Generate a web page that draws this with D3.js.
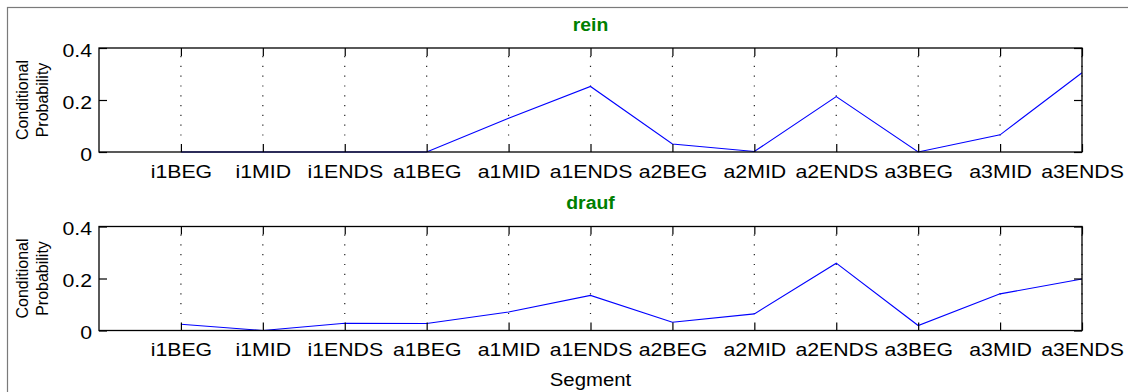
<!DOCTYPE html>
<html>
<head>
<meta charset="utf-8">
<script src="https://cdn.jsdelivr.net/npm/d3@7"></script>
<style>
  html, body { margin: 0; padding: 0; background: #fff; }
  svg { display: block; font-family: "Liberation Sans", Arial, Helvetica, sans-serif; }
</style>
</head>
<body>
<svg id="chart" width="1128" height="392"></svg>
<script>
// Segment categories along the x axis
const segments = ["i1BEG", "i1MID", "i1ENDS", "a1BEG", "a1MID", "a1ENDS",
                  "a2BEG", "a2MID", "a2ENDS", "a3BEG", "a3MID", "a3ENDS"];

// Conditional probability per segment for each word
const reinValues  = [0, 0, 0, 0, 0.13, 0.252, 0.031, 0.002, 0.213, 0, 0.066, 0.305];
const draufValues = [0.024, 0, 0.028, 0.027, 0.071, 0.135, 0.032, 0.064, 0.259, 0.019, 0.141, 0.198];

const yTicks = [0, 0.2, 0.4];
const panelTitles = ["rein", "drauf"];

const svg = d3.select("#chart");
const W = 1128, H = 392;
const left = 99, right = 1082;
const panelH = 104;
const panelTops = [48, 226.5];
const stretch = 1.15;

// outer figure frame
svg.append("rect")
  .attr("x", 7.5).attr("y", 7.5)
  .attr("width", W + 20).attr("height", H + 20)
  .attr("fill", "none").attr("stroke", "#7a7a7a").attr("stroke-width", 1.2);

const x = d3.scaleLinear().domain([0, segments.length]).range([left, right]);

function drawPanel(values, title, top) {
  const bottom = top + panelH;
  const y = d3.scaleLinear().domain([0, 0.4]).range([bottom, top]);
  const g = svg.append("g");

  // dotted vertical grid
  g.append("g").selectAll("line")
    .data(d3.range(1, segments.length + 1))
    .join("line")
      .attr("x1", d => x(d)).attr("x2", d => x(d))
      .attr("y1", top + 8).attr("y2", bottom - 8)
      .attr("stroke", "#222")
      .attr("stroke-width", 1.2)
      .attr("stroke-dasharray", "1.2,8.6");

  // data line
  const line = d3.line().x((d, i) => x(i + 1)).y(d => y(d));
  g.append("path")
    .datum(values)
    .attr("d", line)
    .attr("fill", "none")
    .attr("stroke", "#0000ff")
    .attr("stroke-width", 1.1);

  // bottom axis with labels
  const xAxis = d3.axisBottom(x)
    .tickValues(d3.range(1, segments.length + 1))
    .tickFormat(d => segments[d - 1])
    .tickSizeInner(-8).tickSizeOuter(0).tickPadding(12);
  const gx = g.append("g").attr("transform", `translate(0,${bottom})`).call(xAxis);
  gx.select(".domain").remove();
  gx.selectAll("line").attr("stroke", "#000").attr("stroke-width", 1.2);
  gx.selectAll("text")
    .attr("font-size", 18.5).attr("fill", "#000")
    .attr("y", 26).attr("dy", 0)
    .attr("font-family", "Liberation Sans, Arial, sans-serif")
    .attr("transform", `scale(${stretch},1)`);

  // top ticks
  const xTop = d3.axisTop(x)
    .tickValues(d3.range(1, segments.length + 1))
    .tickFormat("").tickSizeInner(-8).tickSizeOuter(0);
  const gxt = g.append("g").attr("transform", `translate(0,${top})`).call(xTop);
  gxt.select(".domain").remove();
  gxt.selectAll("line").attr("stroke", "#000").attr("stroke-width", 1.2);

  // left axis with labels
  const yAxis = d3.axisLeft(y)
    .tickValues(yTicks)
    .tickFormat(d => d === 0 ? "0" : d3.format(".1f")(d))
    .tickSizeInner(-8).tickSizeOuter(0).tickPadding(6);
  const gy = g.append("g").attr("transform", `translate(${left},0)`).call(yAxis);
  gy.select(".domain").remove();
  gy.selectAll("line").attr("stroke", "#000").attr("stroke-width", 1.2);
  gy.selectAll("text")
    .attr("font-size", 18.5).attr("fill", "#000")
    .attr("dy", "0.45em")
    .attr("font-family", "Liberation Sans, Arial, sans-serif")
    .attr("transform", `scale(${stretch},1)`);

  // right ticks
  const yRight = d3.axisRight(y).tickValues(yTicks).tickFormat("")
    .tickSizeInner(-8).tickSizeOuter(0);
  const gyr = g.append("g").attr("transform", `translate(${right},0)`).call(yRight);
  gyr.select(".domain").remove();
  gyr.selectAll("line").attr("stroke", "#000").attr("stroke-width", 1.2);

  // axes box
  g.append("rect")
    .attr("x", left).attr("y", top)
    .attr("width", right - left).attr("height", panelH)
    .attr("fill", "none").attr("stroke", "#000").attr("stroke-width", 1.3);

  // y label
  const cy = (top + bottom) / 2;
  const yl = g.append("text")
    .attr("transform", `translate(0,${cy}) rotate(-90)`)
    .attr("text-anchor", "middle")
    .attr("font-size", 16).attr("fill", "#000");
  yl.append("tspan").attr("x", 0).attr("y", 28).text("Conditional");
  yl.append("tspan").attr("x", 0).attr("y", 48).text("Probability");

  // panel title
  g.append("text")
    .attr("transform", `translate(${(left + right) / 2},${top - 17.5}) scale(1.05,1)`)
    .attr("text-anchor", "middle")
    .attr("font-size", 18.5).attr("font-weight", "bold")
    .attr("fill", "#008000")
    .text(title);
}

drawPanel(reinValues, panelTitles[0], panelTops[0]);
drawPanel(draufValues, panelTitles[1], panelTops[1]);

// x axis title
svg.append("text")
  .attr("transform", `translate(${(left + right) / 2},386) scale(1.1,1)`)
  .attr("text-anchor", "middle")
  .attr("font-size", 18.5).attr("fill", "#000")
  .text("Segment");
</script>
</body>
</html>
